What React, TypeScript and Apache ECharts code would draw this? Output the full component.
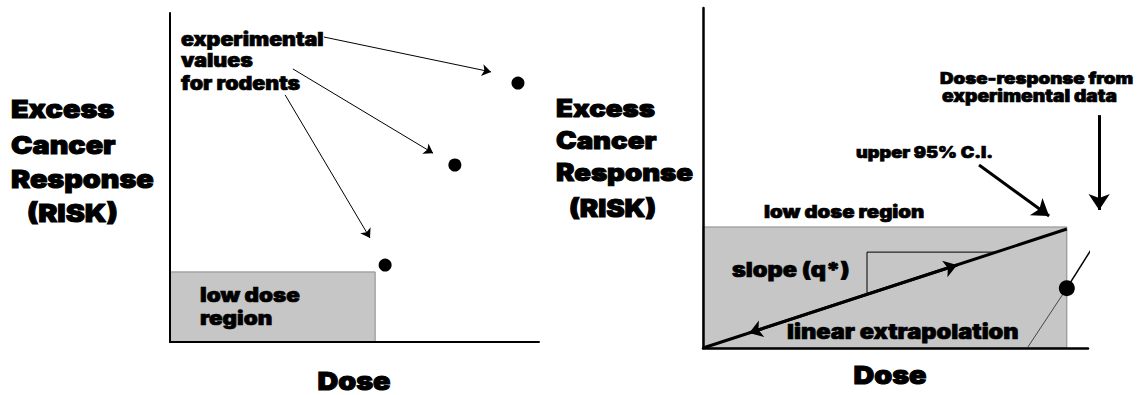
import { useEffect, useRef } from "react";
import * as echarts from "echarts";

// ---------- data (each panel uses a 0..100 dose / risk scale) ----------
// Left panel: experimental values for rodents
const leftDots: number[][] = [
  [58.3, 23.4],
  [77.2, 53.8],
  [94.3, 78.7],
];
const leftLowDose: number[][] = [[0, 0, 55.6, 21.3]];
const leftArrows: number[][][] = [
  [[41.7, 92.7], [87.0, 82.1]],
  [[33.3, 83.0], [71.3, 57.4]],
  [[31.2, 75.1], [54.2, 31.6]],
];

// Right panel: linear extrapolation of the upper 95% C.I.
const rightLowDose: number[][] = [[0, 0, 94.5, 35.6]];
const ciLine: number[][] = [[0, 0], [94.5, 35.0]];
const ciArrows: number[][][] = [
  [[40, 14.8], [66, 24.4]],
  [[40, 14.8], [12, 4.44]],
];
const slopeTriangle: number[][] = [[42.6, 15.8], [42.6, 28.2], [76, 28.2]];
const doseResponseLower: number[][] = [[84.4, 0.3], [94.5, 17.6]];
const doseResponseUpper: number[][] = [[94.5, 17.6], [108.3, 42.4]];
const rightDot: number[][] = [[94.5, 17.6]];
const pointerArrows: number[][][] = [
  [[71.7, 53.8], [89.9, 38.8]],
  [[102.9, 68.5], [102.9, 40.6]],
];

// ---------- texts ----------
const yTitleLines = ["Excess", "Cancer", "Response", "(RISK)"];
const xTitle = "Dose";
const leftNote = ["experimental", "values", "for rodents"];
const leftRegion = ["low dose", "region"];
const rightRegion = "low dose region";
const slopeText = "slope (q*)";
const extrapText = "linear extrapolation";
const ciText = "upper 95% C.I.";
const drText = ["Dose-response from", "experimental data"];

const FONT = 'Inter, "DejaVu Sans", sans-serif';
const WIDEN = 1.15;

function txt(text: string, x: number, y: number, size: number, align = "left", heavy = 0.7) {
  return {
    type: "text",
    z: 100,
    x,
    y,
    scaleX: WIDEN,
    style: {
      text,
      x: 0,
      y: 0,
      fill: "#000",
      stroke: "#000",
      lineWidth: heavy,
      font: `900 ${size}px ${FONT}`,
      align,
      verticalAlign: "middle",
    },
  };
}

function rectRender(fill: string) {
  return (_p: any, api: any) => {
    const a = api.coord([api.value(0), api.value(1)]);
    const b = api.coord([api.value(2), api.value(3)]);
    return {
      type: "rect",
      shape: { x: a[0], y: b[1], width: b[0] - a[0], height: a[1] - b[1] },
      style: { fill, stroke: "#8a8a8a", lineWidth: 1 },
    };
  };
}

function axis(width: number) {
  return {
    type: "value",
    min: 0,
    max: 100,
    z: 5,
    axisLine: { show: true, onZero: false, lineStyle: { color: "#000", width } },
    axisTick: { show: false },
    axisLabel: { show: false },
    splitLine: { show: false },
  };
}

export default function App() {
  const ref = useRef<HTMLDivElement>(null);
  useEffect(() => {
    if (!ref.current) return;
    const chart = echarts.init(ref.current, undefined, { renderer: "svg" });
    const lineBase = (data: number[][], idx: number, width: number, color = "#000") => ({
      type: "line",
      xAxisIndex: idx,
      yAxisIndex: idx,
      data,
      showSymbol: false,
      symbol: "none",
      clip: false,
      z: 3,
      lineStyle: { color, width, opacity: 1 },
    });
    const arrows = (data: number[][][], idx: number, width: number, size: number) => ({
      type: "lines",
      coordinateSystem: "cartesian2d",
      xAxisIndex: idx,
      yAxisIndex: idx,
      clip: false,
      z: 4,
      symbol: ["none", "arrow"],
      symbolSize: size,
      lineStyle: { color: "#000", width, opacity: 1, curveness: 0 },
      data: data.map((c) => ({ coords: c })),
    });
    const dots = (data: number[][], idx: number, size: number) => ({
      type: "scatter",
      xAxisIndex: idx,
      yAxisIndex: idx,
      data,
      symbolSize: size,
      itemStyle: { color: "#000", opacity: 1 },
      clip: false,
      z: 4,
    });
    chart.setOption({
      animation: false,
      backgroundColor: "#fff",
      grid: [
        { left: 170, top: 13, width: 369, height: 329 },
        { left: 703, top: 8, width: 385, height: 340 },
      ],
      xAxis: [{ ...axis(2), gridIndex: 0 }, { ...axis(2.5), gridIndex: 1 }],
      yAxis: [{ ...axis(2), gridIndex: 0 }, { ...axis(2.5), gridIndex: 1 }],
      series: [
        {
          type: "custom",
          xAxisIndex: 0,
          yAxisIndex: 0,
          z: 1,
          data: leftLowDose,
          renderItem: rectRender("#c6c6c6"),
        },
        dots(leftDots, 0, 13),
        arrows(leftArrows, 0, 1, 9),
        {
          type: "custom",
          xAxisIndex: 1,
          yAxisIndex: 1,
          z: 1,
          data: rightLowDose,
          renderItem: rectRender("#c6c6c6"),
        },
        lineBase(ciLine, 1, 3),
        arrows(ciArrows, 1, 3, 13),
        lineBase(slopeTriangle, 1, 1),
        lineBase(doseResponseLower, 1, 1, "#444"),
        lineBase(doseResponseUpper, 1, 1.5),
        dots(rightDot, 1, 16),
        arrows(pointerArrows, 1, 3, 16),
      ],
      graphic: [
        // left panel
        txt(yTitleLines[0], 11, 109, 25, "left", 1),
        txt(yTitleLines[1], 11, 145, 25, "left", 1),
        txt(yTitleLines[2], 11, 179, 25, "left", 1),
        txt(yTitleLines[3], 27, 213, 25, "left", 1),
        txt(xTitle, 354, 381, 25, "center", 1),
        txt(leftNote[0], 181, 40, 18.6),
        txt(leftNote[1], 181, 61, 18.6),
        txt(leftNote[2], 181, 84, 18.6),
        txt(leftRegion[0], 200, 295, 19.5),
        txt(leftRegion[1], 200, 318, 19.5),
        // right panel
        txt(yTitleLines[0], 556, 108, 24, "left", 1),
        txt(yTitleLines[1], 556, 140, 24, "left", 1),
        txt(yTitleLines[2], 556, 172, 24, "left", 1),
        txt(yTitleLines[3], 569, 208, 24, "left", 1),
        txt(xTitle, 890, 375, 25, "center", 1),
        txt(rightRegion, 764, 212, 17.7),
        txt(slopeText, 732, 270, 20.5),
        txt(extrapText, 787, 332, 20.5),
        txt(ciText, 856, 152, 15.8),
        txt(drText[0], 940, 78, 16.3),
        txt(drText[1], 942, 96, 16.7),
      ],
    });
    return () => chart.dispose();
  }, []);
  return (
    <div
      ref={ref}
      style={{ position: "fixed", left: 0, top: 0, width: 1148, height: 395, background: "#fff" }}
    />
  );
}
